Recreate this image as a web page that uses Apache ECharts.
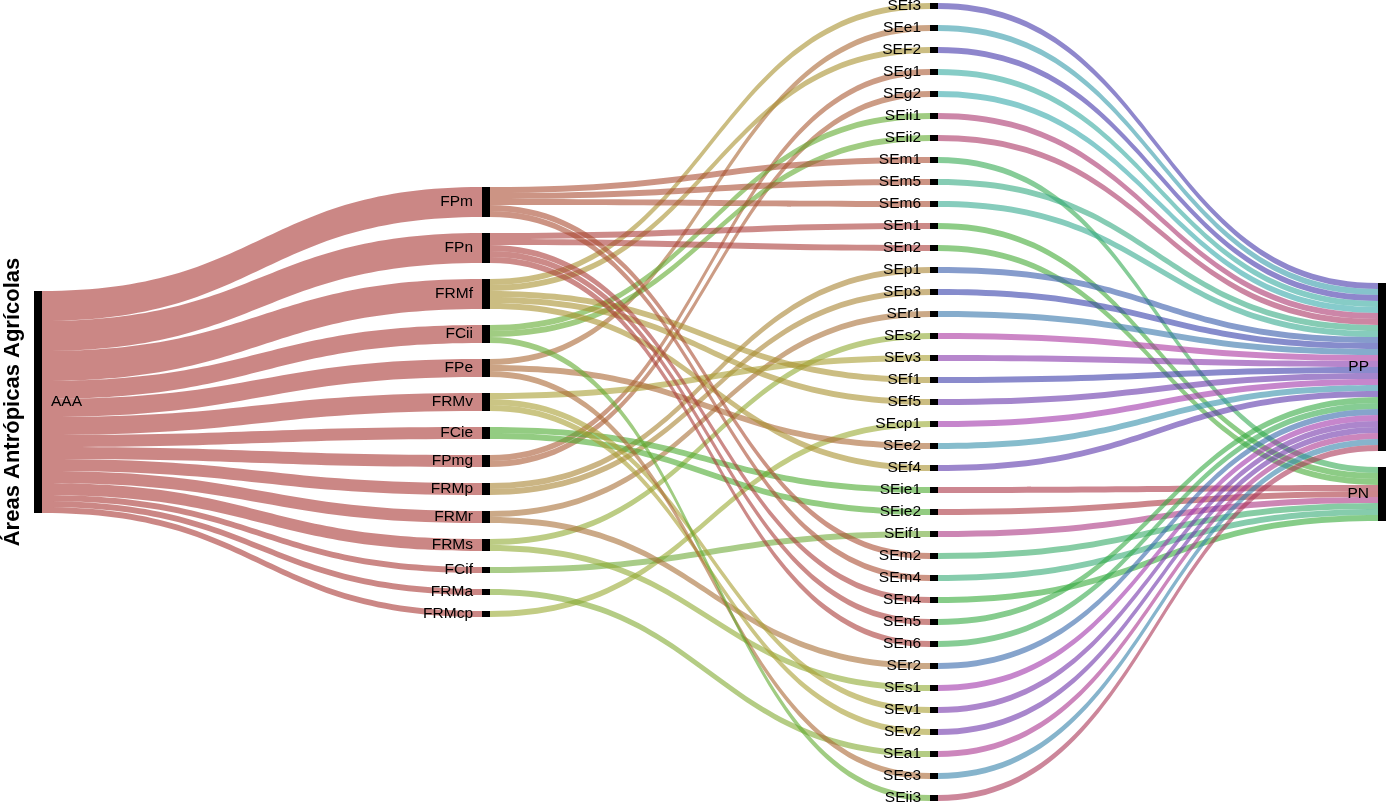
<!DOCTYPE html>
<html>
<head>
<meta charset="utf-8">
<script src="https://cdn.jsdelivr.net/npm/echarts@6/dist/echarts.min.js"></script>
<style>
  html, body { margin: 0; padding: 0; background: #fff; }
  #chart { width: 1386px; height: 804px; }
</style>
</head>
<body>
<div id="chart"></div>
<script>
// niveles del diagrama
const rootNode = 'AAA'
const fxNodes = ['FPm', 'FPn', 'FRMf', 'FCii', 'FPe', 'FRMv', 'FCie', 'FPmg', 'FRMp', 'FRMr', 'FRMs', 'FCif', 'FRMa', 'FRMcp']
const fxValues = [5, 5, 5, 3, 3, 3, 2, 2, 2, 2, 2, 1, 1, 1]
const seNodes = ['SEf3', 'SEe1', 'SEF2', 'SEg1', 'SEg2', 'SEii1', 'SEii2', 'SEm1', 'SEm5', 'SEm6', 'SEn1', 'SEn2',
  'SEp1', 'SEp3', 'SEr1', 'SEs2', 'SEv3', 'SEf1', 'SEf5', 'SEcp1', 'SEe2', 'SEf4', 'SEie1', 'SEie2', 'SEif1',
  'SEm2', 'SEm4', 'SEn4', 'SEn5', 'SEn6', 'SEr2', 'SEs1', 'SEv1', 'SEv2', 'SEa1', 'SEe3', 'SEii3']
const seSource = ['FRMf', 'FPe', 'FRMf', 'FPmg', 'FPmg', 'FCii', 'FCii', 'FPm', 'FPm', 'FPm', 'FPn', 'FPn',
  'FRMp', 'FRMp', 'FRMr', 'FRMs', 'FRMv', 'FRMf', 'FRMf', 'FRMcp', 'FPe', 'FRMf', 'FCie', 'FCie', 'FCif',
  'FPm', 'FPm', 'FPn', 'FPn', 'FPn', 'FRMr', 'FRMs', 'FRMv', 'FRMv', 'FRMa', 'FPe', 'FCii']
const seTarget = ['PP', 'PP', 'PP', 'PP', 'PP', 'PP', 'PP', 'PN', 'PP', 'PP', 'PN', 'PN',
  'PP', 'PP', 'PP', 'PP', 'PP', 'PP', 'PP', 'PP', 'PP', 'PP', 'PN', 'PN', 'PN',
  'PN', 'PN', 'PN', 'PP', 'PP', 'PP', 'PP', 'PP', 'PP', 'PP', 'PP', 'PP']
const seValues = [1, 1, 1, 1, 1, 1, 1, 1, 1, 1, 1, 1, 1, 1, 1, 1, 1, 1, 1, 1, 1, 1, 1, 1, 1, 1, 1, 1, 1, 1, 1, 1, 1, 1, 1, 1, 1]
const sinkNodes = ['PP', 'PN']

// colores (como se ven sobre blanco)
const rootLinkColor = '#cb8785'
const fxLinkColors = ['#cc9484', '#cc8a88', '#cbbd82', '#a0cc82', '#cca485', '#cbc584', '#93cc82',
  '#cc9c85', '#cbb584', '#cba987', '#bccc84', '#a9cc88', '#b4cc84', '#c2cc84']
const seLinkColors = ['#8f87cc', '#86c3cc', '#8e86cc', '#86ccc6', '#86cbcc', '#cc86a8', '#cc86a2', '#86cc98',
  '#86ccb4', '#86ccbc', '#8dcc86', '#8fcc86', '#869ccc', '#868ccc', '#86accc', '#cc86c6', '#b686cc',
  '#8a8acc', '#a486cc', '#c686cc', '#86bccc', '#9c86cc', '#cc8690', '#cc868c', '#cc86b4', '#86cca4',
  '#86ccac', '#86cc88', '#86cc8e', '#86cc94', '#86a4cc', '#c686cc', '#ac86cc', '#a886cc', '#cc86bc',
  '#86b4cc', '#cc869a']

const LINK_ALPHA = 0.6
const GAP = 16
const PLOT_H = 798

// color base para que con opacidad quede igual que el de la figura
function deblend(hex, a) {
  const n = parseInt(hex.slice(1), 16)
  const ch = [n >> 16, (n >> 8) & 255, n & 255].map(function(v) {
    return Math.max(0, Math.min(255, Math.round((v - (1 - a) * 255) / a)))
  })
  return 'rgb(' + ch.join(',') + ')'
}

function sum(arr) {
  return arr.reduce(function(a, b) { return a + b }, 0)
}

// nodos invisibles para centrar cada columna
const ky = (PLOT_H - (seNodes.length - 1) * GAP) / sum(seValues)
function padValue(units, count) {
  const span = units * ky + (count - 1) * GAP
  return ((PLOT_H - span) / 2 - GAP) / ky
}
const sinkTotals = sinkNodes.map(function(s) {
  return sum(seValues.filter(function(v, i) { return seTarget[i] === s }))
})

const nodes = []
const links = []
const hidden = { itemStyle: { color: 'rgba(0,0,0,0)' }, label: { show: false }, tooltip: { show: false } }

nodes.push(Object.assign({ name: '_pad0', depth: 0, value: padValue(sum(fxValues), 1) }, hidden))
nodes.push({ name: rootNode, depth: 0, label: { position: 'right' } })
nodes.push(Object.assign({ name: '_pad1', depth: 1, value: padValue(sum(fxValues), fxNodes.length) }, hidden))
fxNodes.forEach(function(n) { nodes.push({ name: n, depth: 1 }) })
seNodes.forEach(function(n) { nodes.push({ name: n, depth: 2 }) })
nodes.push(Object.assign({ name: '_pad3', depth: 3, value: padValue(sum(sinkTotals), sinkNodes.length) }, hidden))
sinkNodes.forEach(function(n) { nodes.push({ name: n, depth: 3 }) })

fxNodes.forEach(function(n, i) {
  links.push({ source: rootNode, target: n, value: fxValues[i], lineStyle: { color: deblend(rootLinkColor, LINK_ALPHA) } })
})
seNodes.forEach(function(n, i) {
  const c = fxLinkColors[fxNodes.indexOf(seSource[i])]
  links.push({ source: seSource[i], target: n, value: seValues[i], lineStyle: { color: deblend(c, LINK_ALPHA) } })
})
seNodes.forEach(function(n, i) {
  links.push({ source: n, target: seTarget[i], value: seValues[i], lineStyle: { color: deblend(seLinkColors[i], LINK_ALPHA) } })
})

const chart = echarts.init(document.getElementById('chart'))
chart.setOption({
  animation: false,
  textStyle: { fontFamily: 'Liberation Sans' },
  graphic: [
    {
      type: 'text',
      x: 13,
      y: 402,
      rotation: Math.PI / 2,
      style: {
        text: 'Áreas Antrópicas Agrícolas',
        font: 'bold 22px "Liberation Sans"',
        fill: '#000',
        align: 'center',
        verticalAlign: 'middle'
      }
    }
  ],
  series: [
    {
      type: 'sankey',
      left: 34,
      right: 0,
      top: 3,
      bottom: 3,
      nodeWidth: 8,
      nodeGap: GAP,
      layoutIterations: 0,
      draggable: false,
      emphasis: { disabled: true },
      itemStyle: { color: '#000', borderWidth: 0 },
      label: {
        position: 'left',
        distance: 9,
        color: '#000',
        fontSize: 15.5,
        fontFamily: 'Liberation Sans'
      },
      lineStyle: { opacity: LINK_ALPHA, curveness: 0.5 },
      data: nodes,
      links: links
    }
  ]
})
</script>
</body>
</html>
